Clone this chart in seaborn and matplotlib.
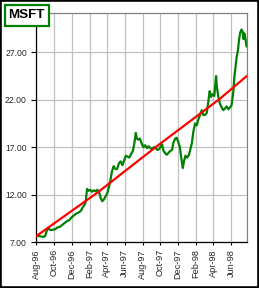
import matplotlib
matplotlib.use("Agg")
import matplotlib.pyplot as plt
import matplotlib.dates as mdates
from matplotlib.patches import Rectangle
from matplotlib.ticker import FormatStrFormatter
import numpy as np
import pandas as pd
import seaborn as sns

# ---- data ----
start_date = "1996-08-01"
end_day = 722
price_days = [0, 7, 14, 24, 31, 38, 44, 50, 58, 66, 74, 82, 90, 98, 106, 114, 122, 130,
              138, 146, 154, 161, 166, 170, 175, 180, 186, 192, 198, 204, 210, 216, 222,
              227, 233, 238, 244, 250, 255, 260, 266, 272, 278, 284, 290, 296, 302, 308,
              314, 320, 326, 332, 337, 342, 346, 350, 356, 362, 368, 374, 380, 386, 392,
              398, 404, 410, 416, 422, 428, 432, 437, 442, 448, 454, 460, 466, 471, 477,
              482, 487, 493, 498, 503, 507, 512, 518, 524, 529, 534, 539, 545, 551, 556,
              562, 568, 573, 579, 585, 590, 595, 600, 605, 611, 617, 620, 625, 630, 636,
              642, 648, 653, 659, 665, 670, 676, 680, 684, 688, 692, 696, 700, 704, 708,
              711, 714, 717, 720, 722]
price_vals = [7.7, 7.65, 7.6, 7.55, 7.6, 8.3, 8.4, 8.25, 8.3, 8.35, 8.55, 8.6, 8.8, 9.0,
              9.2, 9.3, 9.6, 9.8, 10.0, 10.1, 10.3, 10.7, 10.9, 11.2, 12.6, 12.4, 12.5,
              12.3, 12.45, 12.35, 12.5, 12.3, 11.6, 11.3, 11.5, 11.8, 12.1, 12.8, 13.5,
              14.4, 15.0, 14.7, 14.7, 15.3, 15.5, 15.1, 15.6, 16.1, 16.0, 15.9, 16.3, 16.6,
              17.4, 18.5, 17.9, 17.8, 17.9, 17.4, 17.0, 17.2, 16.9, 17.1, 16.9, 16.8, 17.0,
              16.9, 16.7, 16.8, 17.1, 17.3, 16.6, 16.4, 16.2, 16.4, 16.6, 16.7, 17.5, 17.9,
              18.0, 17.6, 17.0, 15.8, 14.8, 15.5, 16.1, 15.9, 16.2, 16.8, 17.4, 18.6, 19.5,
              19.3, 19.9, 20.4, 20.9, 20.4, 20.4, 20.6, 21.7, 22.9, 22.3, 22.6, 22.4, 24.5,
              23.3, 22.3, 21.6, 21.2, 20.9, 21.1, 21.3, 21.0, 21.2, 21.4, 22.8, 24.5, 25.6,
              26.6, 27.2, 28.4, 29.1, 29.4, 29.2, 28.4, 29.0, 28.6, 27.9, 27.6]
trend_days = [0, 210, 414, 630, 722]
trend_vals = [7.6, 12.2, 17.1, 22.1, 24.5]
y_ticks = [7, 12, 17, 22, 27]
title = "MSFT"

# ---- build frames ----
t0 = pd.Timestamp(start_date)
price = pd.DataFrame({"date": t0 + pd.to_timedelta(price_days, unit="D"), "value": price_vals})
trend = pd.DataFrame({"date": t0 + pd.to_timedelta(trend_days, unit="D"), "value": trend_vals})

sns.set_style("white")
plt.rcParams["font.family"] = ["Liberation Sans", "DejaVu Sans"]

W, H = 259, 288
fig = plt.figure(figsize=(W / 100, H / 100), dpi=100)
ax = fig.add_axes([36 / W, 1 - 242 / H, (246.7 - 36) / W, (242 - 13) / H])

sns.lineplot(data=trend, x="date", y="value", ax=ax, color="#ff0000", linewidth=1.6, zorder=3)
sns.lineplot(data=price, x="date", y="value", ax=ax, color="#008000", linewidth=1.6, zorder=2)

ax.set_xlim(t0, t0 + pd.Timedelta(days=end_day))
ax.set_ylim(7, 31.15)
ax.set_yticks(y_ticks)
ax.yaxis.set_major_formatter(FormatStrFormatter("%.2f"))
ax.xaxis.set_major_locator(mdates.MonthLocator(bymonth=[2, 4, 6, 8, 10, 12]))
ax.xaxis.set_major_formatter(mdates.DateFormatter("%b-%y"))
ax.set_xlabel("")
ax.set_ylabel("")

ax.grid(True, color="#c0c0c0", linewidth=0.9)
ax.set_axisbelow(True)
for s in ["left", "bottom"]:
    ax.spines[s].set_color("black")
    ax.spines[s].set_linewidth(0.9)
for s in ["top", "right"]:
    ax.spines[s].set_color("#808080")
    ax.spines[s].set_linewidth(0.9)

ax.tick_params(axis="y", direction="out", length=3.6, width=0.8, color="black",
               labelsize=6.2, pad=3, left=True)
ax.tick_params(axis="x", direction="out", length=2.2, width=0.8, color="black",
               labelsize=6.6, pad=3, bottom=True, labelrotation=90)

# title box
fig.add_artist(Rectangle((4.5 / W, 1 - 25.5 / H), 44.5 / W, 21 / H, transform=fig.transFigure,
                         facecolor="white", edgecolor="#008000", linewidth=1.6, zorder=5))
fig.text(26.8 / W, 1 - 15.3 / H, title, ha="center", va="center", fontsize=9.6,
         fontweight="bold", color="black", zorder=6)

# figure border
fig.add_artist(Rectangle((0, 0), 1, 1, transform=fig.transFigure, facecolor="none",
                         edgecolor="black", linewidth=2.6, zorder=10))

fig.savefig("out.png", dpi=100)
